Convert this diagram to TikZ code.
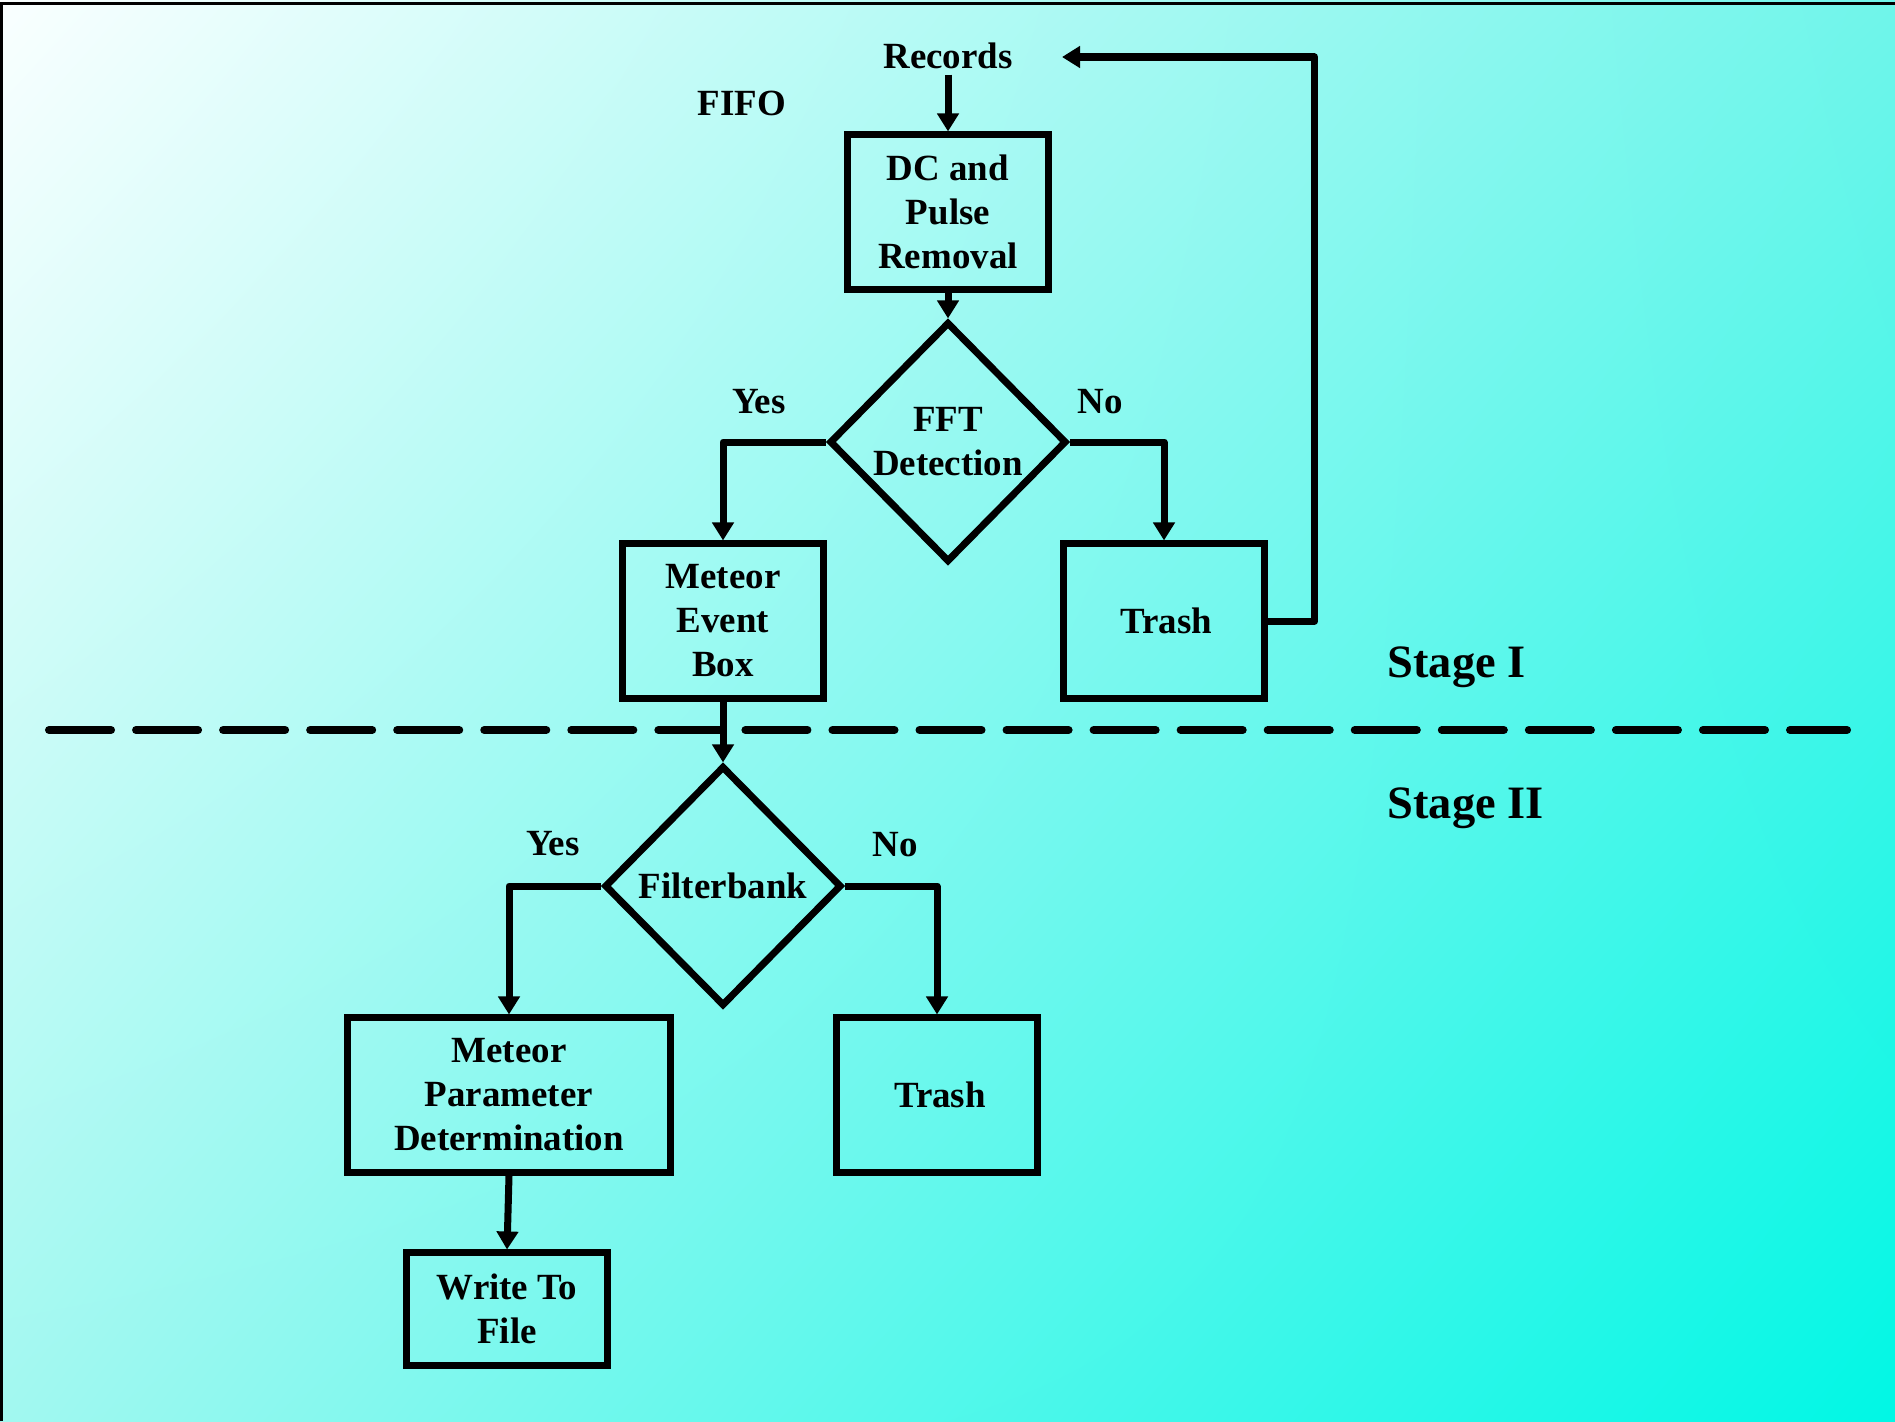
\documentclass[tikz,border=0pt]{standalone}
\usepackage{fontspec}
\setmainfont{Liberation Serif}
\usetikzlibrary{arrows.meta,shapes.geometric,shadings}
\definecolor{bgtl}{RGB}{250,255,255}
\definecolor{bgtr}{RGB}{112,245,234}
\definecolor{bgbl}{RGB}{162,248,240}
\definecolor{bgbr}{RGB}{0,247,229}
\tikzset{
  txt/.style={font=\fontsize{10.5pt}{12.5pt}\selectfont\bfseries, align=center, inner sep=0pt},
  stagetxt/.style={font=\fontsize{13.2pt}{15pt}\selectfont\bfseries, inner sep=0pt, anchor=base west},
  procbox/.style={draw=black, line width=0.07cm, minimum width=2.0cm, minimum height=1.54cm,
    font=\fontsize{10.5pt}{12.5pt}\selectfont\bfseries, align=center, inner sep=0pt},
  decide/.style={draw=black, diamond, aspect=1, line width=0.07cm, minimum width=2.37cm,
    minimum height=2.40cm, inner sep=0pt,
    font=\fontsize{10.5pt}{12.5pt}\selectfont\bfseries, align=center},
  conn/.style={line width=0.07cm, line join=round, -{Triangle[length=0.18cm,width=0.21cm]}},
  sepline/.style={line width=0.08cm, line cap=round, dash pattern=on 0.62cm off 0.25cm}
}
\begin{document}
\begin{tikzpicture}[x=0.01cm, y=-0.01cm]
\useasboundingbox (0,0) rectangle (1895,1421);
\shade[upper left=bgtl, upper right=bgtr, lower left=bgbl, lower right=bgbr] (0,0) rectangle (1895,1421);
\draw[line width=0.03cm] (1.5,1421) -- (1.5,3.5) -- (1895,3.5);

% text labels
\node[txt] (rec) at (948,56) {Records};
\node[txt] (fifo) at (742,103) {FIFO};
\node[txt] (yes1) at (759,402) {Yes};
\node[txt] (no1) at (1100,402) {No};
\node[txt] (yes2) at (553,844) {Yes};
\node[txt] (no2) at (895,845) {No};
\node[stagetxt] (s1) at (1387,677) {Stage I};
\node[stagetxt] (s2) at (1387,818) {Stage II};

% process nodes
\node[procbox] (dc) at (948,212) {DC and\\Pulse\\Removal};
\node[decide] (fft) at (948,442) {FFT\\Detection};
\node[procbox] (meb) at (723,621) {Meteor\\Event\\Box};
\node[procbox] (t1) at (1164,621) {\hspace{0.05cm}Trash};
\node[decide] (fb) at (723,886) {Filterbank};
\node[procbox, minimum width=3.22cm] (mpd) at (509,1095) {Meteor\\Parameter\\Determination};
\node[procbox] (t2) at (937,1095) {\hspace{0.06cm}Trash};
\node[procbox, minimum height=1.12cm] (wtf) at (507,1309) {Write To\\File};

\coordinate (loopend) at (1062,57);

% separator
\draw[sepline] (49,730) -- (1847,730);

% connectors
\draw[conn, shorten <=0.05cm] (rec.south) -- (dc.north);
\draw[conn] (dc.south) -- (fft.north);
\draw[conn] (fft.west) -| (meb.north);
\draw[conn] (fft.east) -| (t1.north);
\draw[conn] (t1.east) -- ++(47,0) |- (loopend);
\draw[conn] (meb.south) -- (fb.north);
\draw[conn] (fb.west) -| (mpd.north);
\draw[conn] (fb.east) -| (t2.north);
\draw[conn] (mpd.south) -- (wtf.north);
\end{tikzpicture}
\end{document}
